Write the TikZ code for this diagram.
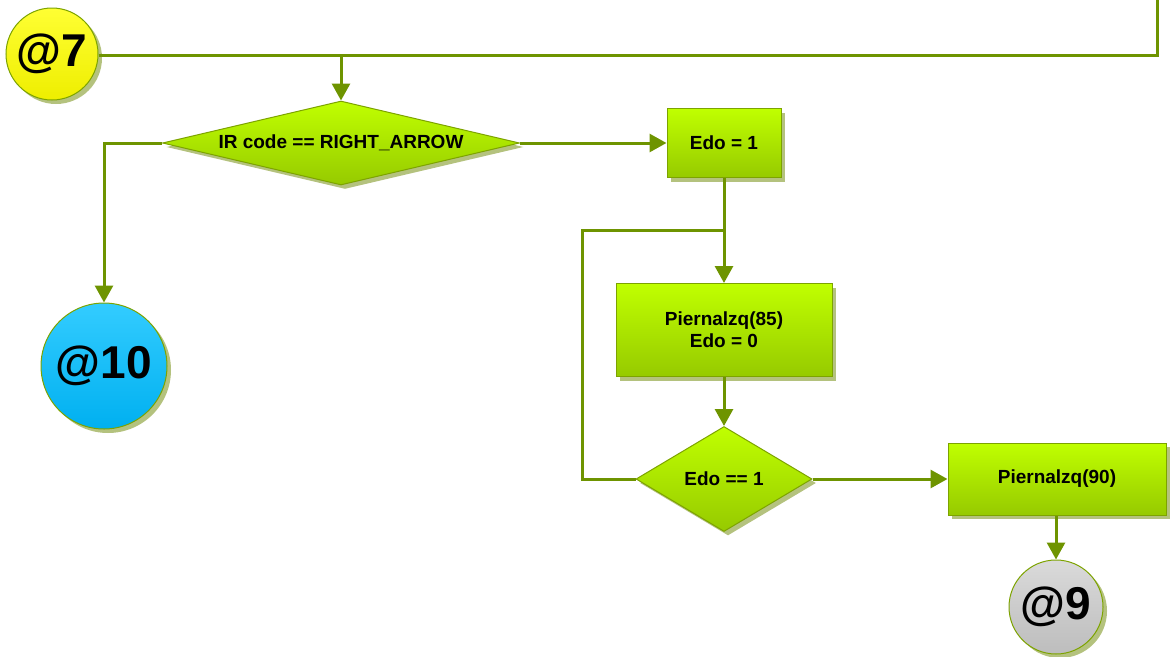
\documentclass[tikz,border=0pt]{standalone}
\usepackage{fontspec}
\setmainfont{Liberation Sans}
\usetikzlibrary{shapes.geometric,arrows.meta,shadows}
\definecolor{lineg}{HTML}{6E9400}
\definecolor{edgeg}{HTML}{7DA300}
\definecolor{gtop}{HTML}{C0FF00}
\definecolor{gbot}{HTML}{96CA00}
\definecolor{shad}{HTML}{B4C27E}
\definecolor{ytop}{HTML}{FFFF33}
\definecolor{ybot}{HTML}{EEEE00}
\definecolor{btop}{HTML}{33CCFF}
\definecolor{bbot}{HTML}{00B0F0}
\definecolor{gytop}{HTML}{DADADA}
\definecolor{gybot}{HTML}{BDBDBD}
\tikzset{
  base/.style={draw=edgeg, line width=1pt, font=\fontsize{19}{22}\selectfont\bfseries,
    text=black, inner sep=0pt,
    drop shadow={shadow xshift=4pt, shadow yshift=-4pt, fill=shad, opacity=1, draw=none}},
  proc/.style={base, rectangle, top color=gtop, bottom color=gbot, align=center},
  dec/.style={base, diamond, top color=gtop, bottom color=gbot},
  conn/.style={base, circle, font=\fontsize{46}{50}\selectfont\bfseries},
  flow/.style={draw=lineg, line width=3pt},
  arr/.style={flow, -{Triangle[length=17pt,width=18pt]}}
}
\begin{document}
\begin{tikzpicture}[x=1pt,y=-1pt]
\useasboundingbox (0,0) rectangle (1170,656);
\node[conn, top color=ytop, bottom color=ybot, minimum size=92pt] (c7) at (52,54) {@7};
\node[dec, aspect=4.25, minimum width=357pt, minimum height=84pt] (d1) at (341,143) {IR code == RIGHT\_ARROW};
\node[conn, top color=btop, bottom color=bbot, minimum size=126pt] (c10) at (104,366) {@10};
\node[proc, minimum width=114pt, minimum height=69pt] (b1) at (724,143) {Edo = 1};
\node[proc, minimum width=216pt, minimum height=93pt] (b2) at (724,330) {Piernalzq(85)\\Edo = 0};
\node[dec, aspect=1.68, minimum width=176pt, minimum height=105pt] (d2) at (724,479) {Edo == 1};
\node[proc, minimum width=218pt, minimum height=72pt] (b3) at (1057,479) {Piernalzq(90)};
\node[conn, top color=gytop, bottom color=gybot, minimum size=94pt] (c9) at (1056,607) {@9};
\coordinate (j1) at (341,55);
\coordinate (topin) at (1157,0);
\coordinate (j2) at (724,230);
\coordinate (lp) at (582,230);
\draw[flow] (c7.east |- j1) -- (j1);
\draw[arr] (topin) |- (j1) -- (d1.north);
\draw[arr] (d1.west) -| (c10.north);
\draw[arr] (d1.east) -- (b1.west);
\draw[arr] (b1.south) -- (b2.north);
\draw[flow] (d2.west) -| (lp) -- (j2);
\draw[arr] (b2.south) -- (d2.north);
\draw[arr] (d2.east) -- (b3.west);
\draw[arr] (c9.north |- b3.south) -- (c9.north);
\end{tikzpicture}
\end{document}
